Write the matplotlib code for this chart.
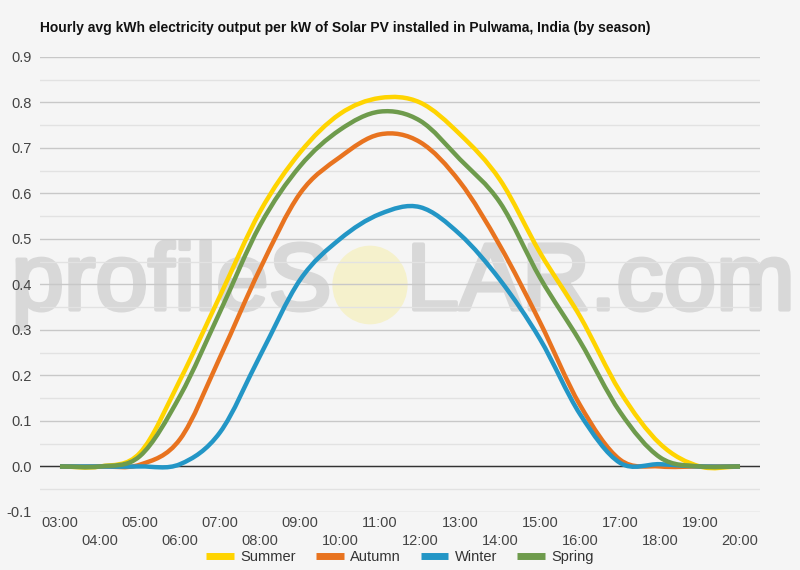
import numpy as np
import matplotlib
matplotlib.use("Agg")
import matplotlib.pyplot as plt
import matplotlib.patheffects as pe
from matplotlib.path import Path
from matplotlib.patches import PathPatch, Ellipse
from matplotlib.lines import Line2D

plt.rcParams['font.family'] = ['Liberation Sans', 'DejaVu Sans']

hours = list(range(3, 21))
hour_labels = [f"{h:02d}:00" for h in hours]

summer = [0.0, 0.0, 0.03, 0.19, 0.375, 0.56, 0.69, 0.775, 0.81, 0.80, 0.73, 0.63, 0.47, 0.33, 0.165, 0.05, 0.0, 0.0]
autumn = [0.0, 0.0, 0.004, 0.06, 0.24, 0.434, 0.60, 0.68, 0.73, 0.713, 0.625, 0.485, 0.317, 0.135, 0.015, 0.0, 0.0, 0.0]
winter = [0.0, 0.0, 0.0, 0.005, 0.075, 0.243, 0.41, 0.50, 0.555, 0.57, 0.51, 0.41, 0.28, 0.115, 0.008, 0.005, 0.0, 0.0]
spring = [0.0, 0.0, 0.023, 0.155, 0.34, 0.53, 0.66, 0.74, 0.78, 0.76, 0.675, 0.58, 0.415, 0.275, 0.12, 0.02, 0.0, 0.0]

series_names = ["Summer", "Autumn", "Winter", "Spring"]
series_values = [summer, autumn, winter, spring]
colors = ["#ffd400", "#e8731f", "#2396c6", "#6e9b4c"]

title = "Hourly avg kWh electricity output per kW of Solar PV installed in Pulwama, India (by season)"
bg = "#f5f5f5"


def smooth_path(x, y):
    x = np.asarray(x, float)
    y = np.asarray(y, float)
    n = len(x)
    m = np.zeros(n)
    m[1:-1] = (y[2:] - y[:-2]) / (x[2:] - x[:-2])
    m[0] = (y[1] - y[0]) / (x[1] - x[0])
    m[-1] = (y[-1] - y[-2]) / (x[-1] - x[-2])
    verts = [(x[0], y[0])]
    codes = [Path.MOVETO]
    for i in range(n - 1):
        dx = x[i + 1] - x[i]
        verts += [(x[i] + dx / 3, y[i] + m[i] * dx / 3),
                  (x[i + 1] - dx / 3, y[i + 1] - m[i + 1] * dx / 3),
                  (x[i + 1], y[i + 1])]
        codes += [Path.CURVE4] * 3
    return Path(verts, codes)


fig = plt.figure(figsize=(8, 5.7), dpi=100, facecolor=bg)
ax = fig.add_axes([0.05, 0.1018, 0.90, 0.7982])
ax.set_facecolor(bg)

ax.set_xlim(2.5, 20.5)
ax.set_ylim(-0.1, 0.9)

# watermark (behind grid and lines)
wm_color = "#d8d8d8"
wm_fx = [pe.withStroke(linewidth=3, foreground=wm_color)]
ax.text(0.415, 0.50, "profileS", fontsize=68, color=wm_color,
        ha="right", va="center", transform=fig.transFigure, zorder=0.5,
        path_effects=wm_fx)
ax.text(0.508, 0.50, "LAR.com", fontsize=68, color=wm_color,
        ha="left", va="center", transform=fig.transFigure, zorder=0.5,
        path_effects=wm_fx)
sun = Ellipse((0.4625, 0.50), 0.094, 0.138, transform=fig.transFigure,
              facecolor="#f5f1cc", edgecolor="none", zorder=0.5)
ax.add_patch(sun)

# gridlines
for v in np.arange(-0.1, 0.901, 0.1):
    ax.axhline(v, color="#c8c8c8", lw=1, zorder=1)
for v in np.arange(-0.05, 0.9, 0.1):
    ax.axhline(v, color="#e2e2e2", lw=1, zorder=1)
ax.axhline(0, color="#333333", lw=1, zorder=2)

for s in ax.spines.values():
    s.set_visible(False)

handles = []
for name, vals, c in zip(series_names, series_values, colors):
    p = PathPatch(smooth_path(hours, vals), facecolor="none", edgecolor=c,
                  lw=3.2, capstyle="butt", joinstyle="round", zorder=3)
    ax.add_patch(p)
    handles.append(Line2D([0], [0], color=c, lw=5, solid_capstyle="butt"))

# y ticks
yt = np.round(np.arange(-0.1, 0.901, 0.1), 1)
ax.set_yticks(yt)
ax.set_yticklabels([f"{v:.1f}" for v in yt])
ax.tick_params(axis="y", length=0, pad=6, labelsize=10.5, labelcolor="#444444")

# x ticks: odd hours on first row, even hours on second row
odd = [h for h in hours if h % 2 == 1]
even = [h for h in hours if h % 2 == 0]
ax.set_xticks(odd)
ax.set_xticklabels([hour_labels[hours.index(h)] for h in odd])
ax.set_xticks(even, minor=True)
ax.set_xticklabels([hour_labels[hours.index(h)] for h in even], minor=True)
ax.tick_params(axis="x", which="major", length=0, pad=3, labelsize=10.5, labelcolor="#444444")
ax.tick_params(axis="x", which="minor", length=0, pad=16, labelsize=10.5, labelcolor="#444444")

fig.text(0.05, 0.951, title, fontsize=10, fontweight="bold", color="#111111",
         ha="left", va="center")

leg = fig.legend(handles, series_names, loc="center", bbox_to_anchor=(0.5, 0.022),
                 ncol=4, frameon=False, fontsize=10.5, handlelength=1.9,
                 columnspacing=1.35, handletextpad=0.45, labelcolor="#333333",
                 borderpad=0.1)

fig.savefig("out.png", dpi=100, facecolor=bg)
